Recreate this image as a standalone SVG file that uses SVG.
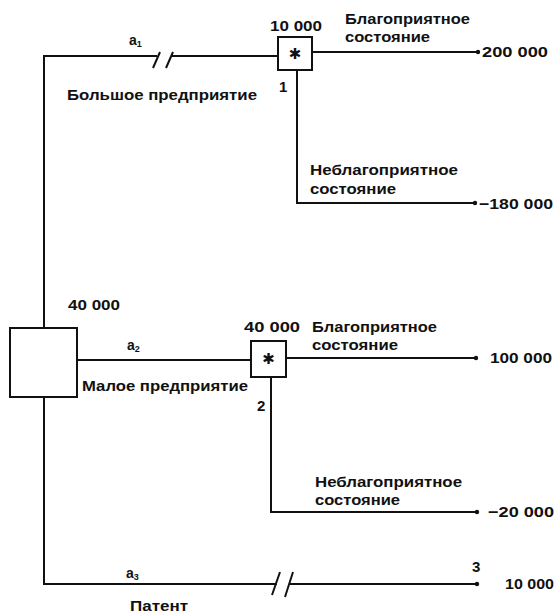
<svg xmlns="http://www.w3.org/2000/svg" width="558" height="615" viewBox="0 0 558 615">
<style>
  .ln{fill:none;stroke:#111;stroke-width:2;stroke-linejoin:miter}
  .box{fill:#fff;stroke:#111;stroke-width:2}
  .t{font-family:"Liberation Sans",Arial,sans-serif;font-size:14px;font-weight:bold;fill:#111}
  .n{font-family:"Liberation Sans",Arial,sans-serif;font-size:15px;font-weight:bold;fill:#111}
  .sub{font-size:9px}
  .dot{fill:#111}
  .ast{font-family:"DejaVu Sans",sans-serif;font-size:15px;fill:#111;text-anchor:middle}
</style>
<rect width="558" height="615" fill="#fff"/>
<g id="connectors">
  <path class="ln" d="M44,328 V56 H157 M171,56 H278"/>
  <path class="ln" d="M153,68 L160,52 M166,68 L173,52"/>
  <path class="ln" d="M312,52 H477"/>
  <path class="ln" d="M297,70 V203 H475"/>
  <path class="ln" d="M77,360 H251"/>
  <path class="ln" d="M286,358 H475"/>
  <path class="ln" d="M271,377 V512 H477"/>
  <path class="ln" d="M44,397 V584 H277 M290,584 H477"/>
  <path class="ln" d="M272,595 L280,572 M285,597 L293,572"/>
  <text class="t" x="129" y="45">a<tspan class="sub" dy="2">1</tspan></text>
  <text class="t" x="67" y="100" textLength="190" lengthAdjust="spacingAndGlyphs">Большое предприятие</text>
  <text class="t" x="127" y="350">a<tspan class="sub" dy="2">2</tspan></text>
  <text class="t" x="82" y="391" textLength="166" lengthAdjust="spacingAndGlyphs">Малое предприятие</text>
  <text class="t" x="126" y="578">a<tspan class="sub" dy="2">3</tspan></text>
  <text class="t" x="130" y="611" textLength="58" lengthAdjust="spacingAndGlyphs">Патент</text>
  <text class="t" x="345" y="24" textLength="125" lengthAdjust="spacingAndGlyphs">Благоприятное</text>
  <text class="t" x="345" y="42" textLength="85" lengthAdjust="spacingAndGlyphs">состояние</text>
  <text class="t" x="310" y="175" textLength="148" lengthAdjust="spacingAndGlyphs">Неблагоприятное</text>
  <text class="t" x="310" y="194" textLength="86" lengthAdjust="spacingAndGlyphs">состояние</text>
  <text class="t" x="312" y="332" textLength="125" lengthAdjust="spacingAndGlyphs">Благоприятное</text>
  <text class="t" x="312" y="350" textLength="86" lengthAdjust="spacingAndGlyphs">состояние</text>
  <text class="t" x="315" y="487" textLength="147" lengthAdjust="spacingAndGlyphs">Неблагоприятное</text>
  <text class="t" x="315" y="505" textLength="85" lengthAdjust="spacingAndGlyphs">состояние</text>
</g>
<g id="decision">
  <rect class="box" x="10" y="328" width="67" height="69"/>
  <text class="n" x="68" y="310" textLength="52" lengthAdjust="spacingAndGlyphs">40 000</text>
</g>
<g id="chance1">
  <rect class="box" x="278" y="37" width="34" height="33"/>
  <text class="ast" x="295" y="59">✱</text>
  <text class="n" x="270" y="31" textLength="52" lengthAdjust="spacingAndGlyphs">10 000</text>
  <text class="n" x="279" y="92">1</text>
</g>
<g id="chance2">
  <rect class="box" x="251" y="341" width="35" height="36"/>
  <text class="ast" x="268.5" y="364">✱</text>
  <text class="n" x="244" y="332" textLength="56" lengthAdjust="spacingAndGlyphs">40 000</text>
  <text class="n" x="257" y="411">2</text>
</g>
<g id="outcome1">
  <circle class="dot" cx="478" cy="52" r="2.2"/>
  <text class="n" x="482" y="57" textLength="66" lengthAdjust="spacingAndGlyphs">200 000</text>
</g>
<g id="outcome2">
  <circle class="dot" cx="475" cy="203" r="2.2"/>
  <text class="n" x="479" y="209" textLength="74" lengthAdjust="spacingAndGlyphs">−180 000</text>
</g>
<g id="outcome3">
  <circle class="dot" cx="476" cy="358" r="2.2"/>
  <text class="n" x="490" y="363" textLength="62" lengthAdjust="spacingAndGlyphs">100 000</text>
</g>
<g id="outcome4">
  <circle class="dot" cx="477" cy="512" r="2.2"/>
  <text class="n" x="488" y="517" textLength="66" lengthAdjust="spacingAndGlyphs">−20 000</text>
</g>
<g id="outcome5">
  <circle class="dot" cx="477" cy="584" r="2.2"/>
  <text class="n" x="472" y="572">3</text>
  <text class="n" x="505" y="589" textLength="49" lengthAdjust="spacingAndGlyphs">10 000</text>
</g>
</svg>
